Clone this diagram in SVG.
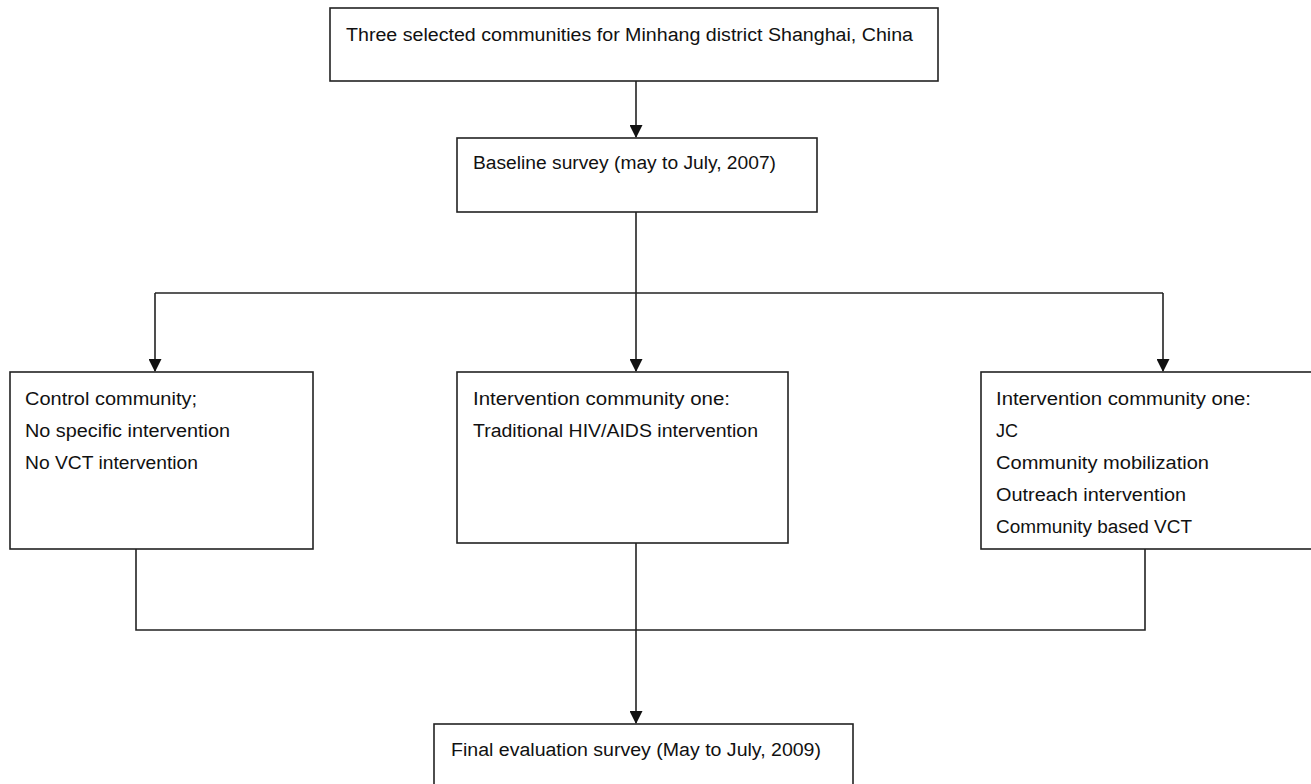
<svg xmlns="http://www.w3.org/2000/svg" width="1311" height="784" viewBox="0 0 1311 784">
<style>
.box{fill:#fff;stroke:#222;stroke-width:1.6}
.ln{fill:none;stroke:#222;stroke-width:1.6}
text{font-family:"Liberation Sans",Arial,sans-serif;font-size:18px;fill:#111}
</style>
<defs>
<marker id="arr" markerWidth="13" markerHeight="13" refX="12" refY="6.5" orient="auto" markerUnits="userSpaceOnUse" viewBox="0 0 13 13">
<path d="M0,0 L13,6.5 L0,13 Z" fill="#111"/>
</marker>
</defs>
<rect width="1311" height="784" fill="#fff"/>
<g id="connectors">
<line class="ln" x1="636" y1="81" x2="636" y2="137" marker-end="url(#arr)"/>
<line class="ln" x1="636" y1="212" x2="636" y2="293"/>
<line class="ln" x1="155" y1="293" x2="1163" y2="293"/>
<line class="ln" x1="155" y1="293" x2="155" y2="371" marker-end="url(#arr)"/>
<line class="ln" x1="636" y1="293" x2="636" y2="371" marker-end="url(#arr)"/>
<line class="ln" x1="1163" y1="293" x2="1163" y2="371" marker-end="url(#arr)"/>
<polyline class="ln" points="136,549 136,630 1145,630 1145,549"/>
<line class="ln" x1="636" y1="543" x2="636" y2="723" marker-end="url(#arr)"/>
</g>
<g id="top">
<rect class="box" x="330" y="8" width="608" height="73"/>
<text x="346" y="41" textLength="567" lengthAdjust="spacingAndGlyphs">Three selected communities for Minhang district Shanghai, China</text>
</g>
<g id="baseline">
<rect class="box" x="457" y="138" width="360" height="74"/>
<text x="473" y="169" textLength="303" lengthAdjust="spacingAndGlyphs">Baseline survey (may to July, 2007)</text>
</g>
<g id="control">
<rect class="box" x="10" y="372" width="303" height="177"/>
<text x="25" y="405" textLength="172" lengthAdjust="spacingAndGlyphs">Control community;</text>
<text x="25" y="437" textLength="205" lengthAdjust="spacingAndGlyphs">No specific intervention</text>
<text x="25" y="469" textLength="173" lengthAdjust="spacingAndGlyphs">No VCT intervention</text>
</g>
<g id="intervention1">
<rect class="box" x="457" y="372" width="331" height="171"/>
<text x="473" y="405" textLength="257" lengthAdjust="spacingAndGlyphs">Intervention community one:</text>
<text x="473" y="437" textLength="285" lengthAdjust="spacingAndGlyphs">Traditional HIV/AIDS intervention</text>
</g>
<g id="intervention2">
<rect class="box" x="981" y="372" width="340" height="177"/>
<text x="996" y="405" textLength="255" lengthAdjust="spacingAndGlyphs">Intervention community one:</text>
<text x="996" y="437">JC</text>
<text x="996" y="469" textLength="213" lengthAdjust="spacingAndGlyphs">Community mobilization</text>
<text x="996" y="501" textLength="190" lengthAdjust="spacingAndGlyphs">Outreach intervention</text>
<text x="996" y="533" textLength="196" lengthAdjust="spacingAndGlyphs">Community based VCT</text>
</g>
<g id="final">
<rect class="box" x="434" y="724" width="419" height="80"/>
<text x="451" y="756" textLength="370" lengthAdjust="spacingAndGlyphs">Final evaluation survey (May to July, 2009)</text>
</g>
</svg>
